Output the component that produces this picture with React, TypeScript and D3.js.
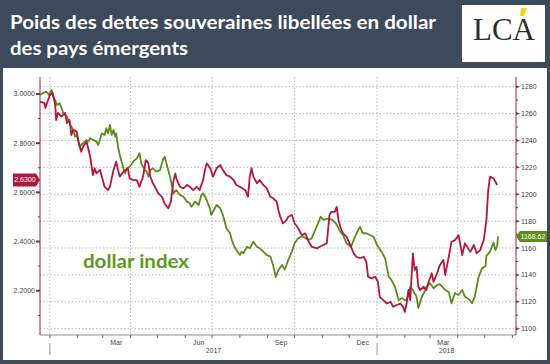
import React from "react";
import * as d3 from "d3";

const W = 550;
const H = 364;

const titleLines = ["Poids des dettes souveraines libellées en dollar", "des pays émergents"];
const seriesLabel = "dollar index";
const logoText = "LCA";

// Red series (left axis) : date, value
const redSeries: [string, number][] = [
  ["2016-12-21", 2.969], ["2016-12-26", 2.963], ["2016-12-27", 2.943], ["2017-01-01", 2.996],
  ["2017-01-04", 3.005], ["2017-01-07", 2.955], ["2017-01-08", 2.894], ["2017-01-10", 2.923],
  ["2017-01-14", 2.908], ["2017-01-18", 2.923], ["2017-01-20", 2.881], ["2017-01-23", 2.894],
  ["2017-01-25", 2.833], ["2017-01-27", 2.854], ["2017-01-31", 2.847], ["2017-02-02", 2.806],
  ["2017-02-05", 2.765], ["2017-02-07", 2.786], ["2017-02-11", 2.806], ["2017-02-15", 2.745],
  ["2017-02-18", 2.670], ["2017-02-20", 2.698], ["2017-02-22", 2.677], ["2017-02-26", 2.691],
  ["2017-02-28", 2.664], ["2017-03-03", 2.623], ["2017-03-07", 2.609], ["2017-03-09", 2.623],
  ["2017-03-11", 2.657], ["2017-03-13", 2.691], ["2017-03-16", 2.725], ["2017-03-18", 2.691],
  ["2017-03-20", 2.664], ["2017-03-24", 2.684], ["2017-03-29", 2.698], ["2017-03-31", 2.657],
  ["2017-04-04", 2.650], ["2017-04-08", 2.650], ["2017-04-11", 2.623], ["2017-04-15", 2.664],
  ["2017-04-18", 2.731], ["2017-04-21", 2.718], ["2017-04-23", 2.664], ["2017-04-26", 2.637],
  ["2017-05-02", 2.596], ["2017-05-06", 2.582], ["2017-05-09", 2.555], ["2017-05-13", 2.535],
  ["2017-05-16", 2.562], ["2017-05-19", 2.650], ["2017-05-21", 2.677], ["2017-05-22", 2.657],
  ["2017-05-26", 2.623], ["2017-05-30", 2.616], ["2017-06-03", 2.630], ["2017-06-06", 2.623],
  ["2017-06-10", 2.609], ["2017-06-14", 2.623], ["2017-06-17", 2.609], ["2017-06-21", 2.650],
  ["2017-06-23", 2.691], ["2017-06-25", 2.718], ["2017-06-29", 2.698], ["2017-07-02", 2.664],
  ["2017-07-06", 2.698], ["2017-07-10", 2.711], ["2017-07-13", 2.691], ["2017-07-17", 2.670],
  ["2017-07-21", 2.664], ["2017-07-25", 2.650], ["2017-07-28", 2.630], ["2017-08-01", 2.623],
  ["2017-08-07", 2.609], ["2017-08-10", 2.582], ["2017-08-12", 2.664], ["2017-08-14", 2.698],
  ["2017-08-16", 2.664], ["2017-08-20", 2.637], ["2017-08-23", 2.650], ["2017-08-27", 2.630],
  ["2017-08-31", 2.616], ["2017-09-04", 2.582], ["2017-09-07", 2.576], ["2017-09-11", 2.562],
  ["2017-09-13", 2.528], ["2017-09-15", 2.501], ["2017-09-18", 2.474], ["2017-09-22", 2.487],
  ["2017-09-24", 2.501], ["2017-09-28", 2.508], ["2017-10-01", 2.474], ["2017-10-05", 2.454],
  ["2017-10-09", 2.426], ["2017-10-13", 2.433], ["2017-10-16", 2.406], ["2017-10-20", 2.379],
  ["2017-10-26", 2.372], ["2017-10-29", 2.379], ["2017-11-02", 2.386], ["2017-11-06", 2.393],
  ["2017-11-08", 2.474], ["2017-11-09", 2.508], ["2017-11-11", 2.521], ["2017-11-15", 2.521],
  ["2017-11-17", 2.541], ["2017-11-19", 2.487], ["2017-11-21", 2.460], ["2017-11-24", 2.433],
  ["2017-11-28", 2.419], ["2017-12-02", 2.386], ["2017-12-06", 2.352], ["2017-12-09", 2.338],
  ["2017-12-13", 2.332], ["2017-12-17", 2.338], ["2017-12-20", 2.318], ["2017-12-22", 2.257],
  ["2017-12-26", 2.250], ["2017-12-30", 2.257], ["2018-01-02", 2.236], ["2018-01-04", 2.175],
  ["2018-01-08", 2.162], ["2018-01-12", 2.148], ["2018-01-16", 2.155], ["2018-01-19", 2.135],
  ["2018-01-23", 2.142], ["2018-01-27", 2.148], ["2018-01-30", 2.135], ["2018-02-01", 2.114],
  ["2018-02-03", 2.148], ["2018-02-05", 2.203], ["2018-02-07", 2.162], ["2018-02-10", 2.352],
  ["2018-02-12", 2.284], ["2018-02-14", 2.297], ["2018-02-16", 2.216], ["2018-02-18", 2.203],
  ["2018-02-22", 2.216], ["2018-02-25", 2.203], ["2018-02-27", 2.230], ["2018-03-03", 2.271],
  ["2018-03-05", 2.236], ["2018-03-09", 2.271], ["2018-03-12", 2.304], ["2018-03-16", 2.325],
  ["2018-03-18", 2.264], ["2018-03-22", 2.338], ["2018-03-25", 2.399], ["2018-03-29", 2.406],
  ["2018-04-02", 2.426], ["2018-04-06", 2.345], ["2018-04-09", 2.393], ["2018-04-15", 2.358],
  ["2018-04-19", 2.386], ["2018-04-22", 2.352], ["2018-04-26", 2.365], ["2018-04-30", 2.406],
  ["2018-05-03", 2.487], ["2018-05-05", 2.609], ["2018-05-07", 2.664], ["2018-05-11", 2.657],
  ["2018-05-15", 2.630],
];

// Green series (right axis, dollar index) : date, value
const greenSeries: [string, number][] = [
  ["2016-12-21", 1273.8], ["2016-12-24", 1275.1], ["2016-12-28", 1276.3], ["2016-12-31", 1273.8],
  ["2017-01-03", 1277.6], ["2017-01-05", 1272.6], ["2017-01-09", 1266.4], ["2017-01-12", 1267.7],
  ["2017-01-16", 1260.2], ["2017-01-20", 1257.7], ["2017-01-23", 1252.8], ["2017-01-27", 1247.8],
  ["2017-01-29", 1242.8], ["2017-01-31", 1244.1], ["2017-02-03", 1235.4], ["2017-02-07", 1237.9],
  ["2017-02-11", 1240.4], ["2017-02-13", 1239.1], ["2017-02-15", 1241.6], ["2017-02-18", 1240.4],
  ["2017-02-22", 1239.1], ["2017-02-24", 1236.6], ["2017-02-28", 1245.3], ["2017-03-03", 1244.1],
  ["2017-03-05", 1249.1], ["2017-03-07", 1245.3], ["2017-03-09", 1251.5], ["2017-03-11", 1244.1],
  ["2017-03-13", 1247.8], ["2017-03-15", 1242.8], ["2017-03-16", 1245.3], ["2017-03-18", 1235.4],
  ["2017-03-20", 1229.2], ["2017-03-24", 1219.3], ["2017-03-26", 1215.6], ["2017-03-28", 1219.3],
  ["2017-03-31", 1220.5], ["2017-04-04", 1224.2], ["2017-04-08", 1226.7], ["2017-04-11", 1230.5],
  ["2017-04-13", 1223.0], ["2017-04-17", 1218.0], ["2017-04-19", 1216.8], ["2017-04-21", 1213.1],
  ["2017-04-23", 1218.0], ["2017-04-26", 1219.3], ["2017-04-30", 1216.8], ["2017-05-04", 1218.0],
  ["2017-05-07", 1225.5], ["2017-05-09", 1227.9], ["2017-05-11", 1223.0], ["2017-05-15", 1213.1],
  ["2017-05-19", 1200.7], ["2017-05-22", 1203.2], ["2017-05-26", 1199.4], ["2017-05-30", 1198.2],
  ["2017-06-03", 1194.5], ["2017-06-06", 1193.3], ["2017-06-08", 1190.7], ["2017-06-12", 1194.5],
  ["2017-06-16", 1192.0], ["2017-06-19", 1199.4], ["2017-06-21", 1200.7], ["2017-06-25", 1195.7],
  ["2017-06-29", 1188.3], ["2017-06-30", 1184.6], ["2017-07-02", 1187.0], ["2017-07-06", 1192.0],
  ["2017-07-10", 1189.6], ["2017-07-13", 1184.6], ["2017-07-17", 1174.7], ["2017-07-21", 1171.0],
  ["2017-07-23", 1166.0], ["2017-07-25", 1162.3], ["2017-07-28", 1158.5], ["2017-08-01", 1154.8],
  ["2017-08-03", 1157.3], ["2017-08-05", 1156.1], ["2017-08-09", 1161.0], ["2017-08-12", 1159.8],
  ["2017-08-16", 1164.7], ["2017-08-20", 1161.0], ["2017-08-23", 1159.8], ["2017-08-27", 1157.3],
  ["2017-08-31", 1154.8], ["2017-09-04", 1153.6], ["2017-09-07", 1147.4], ["2017-09-10", 1138.4],
  ["2017-09-13", 1143.7], ["2017-09-17", 1147.4], ["2017-09-20", 1144.0], ["2017-09-24", 1151.1],
  ["2017-09-28", 1157.3], ["2017-10-01", 1163.5], ["2017-10-05", 1167.2], ["2017-10-08", 1168.4],
  ["2017-10-11", 1168.4], ["2017-10-16", 1166.0], ["2017-10-20", 1167.2], ["2017-10-24", 1173.4],
  ["2017-10-28", 1179.6], ["2017-10-30", 1183.3], ["2017-11-02", 1180.9], ["2017-11-08", 1182.1],
  ["2017-11-12", 1180.9], ["2017-11-16", 1178.4], ["2017-11-21", 1172.2], ["2017-11-24", 1169.7],
  ["2017-11-28", 1163.5], ["2017-12-03", 1161.0], ["2017-12-06", 1166.0], ["2017-12-10", 1172.2],
  ["2017-12-13", 1175.9], ["2017-12-16", 1171.0], ["2017-12-20", 1171.0], ["2017-12-24", 1169.7],
  ["2017-12-28", 1168.4], ["2018-01-01", 1162.3], ["2018-01-06", 1157.3], ["2018-01-10", 1152.3],
  ["2018-01-14", 1138.7], ["2018-01-17", 1136.2], ["2018-01-21", 1131.2], ["2018-01-25", 1121.3],
  ["2018-01-29", 1122.6], ["2018-02-01", 1121.3], ["2018-02-03", 1121.3], ["2018-02-07", 1131.2],
  ["2018-02-10", 1128.8], ["2018-02-14", 1123.8], ["2018-02-16", 1115.4], ["2018-02-20", 1123.8],
  ["2018-02-23", 1127.3], ["2018-02-25", 1131.2], ["2018-03-01", 1133.8], ["2018-03-05", 1130.1],
  ["2018-03-09", 1132.5], ["2018-03-12", 1133.2], ["2018-03-16", 1130.3], ["2018-03-18", 1128.8],
  ["2018-03-22", 1127.3], ["2018-03-25", 1118.9], ["2018-03-29", 1126.6], ["2018-04-02", 1125.1],
  ["2018-04-06", 1128.8], ["2018-04-09", 1123.8], ["2018-04-13", 1122.1], ["2018-04-17", 1118.9],
  ["2018-04-20", 1123.8], ["2018-04-24", 1137.7], ["2018-04-28", 1144.9], ["2018-05-02", 1146.6],
  ["2018-05-03", 1154.1], ["2018-05-07", 1157.3], ["2018-05-11", 1164.1], ["2018-05-13", 1158.5],
  ["2018-05-15", 1161.5], ["2018-05-16", 1168.62],
];

const leftTicks = [2.2, 2.4, 2.6, 2.8, 3.0];
const leftMinorTicks = [2.1, 2.3, 2.5, 2.7, 2.9];
const rightTicks = [1100, 1120, 1140, 1160, 1180, 1200, 1220, 1240, 1260, 1280];
const rightMinorTicks = [1110, 1130, 1150, 1170, 1190, 1210, 1230, 1250, 1270];
const redLastLabel = "2.6300";
const greenLastLabel = "1168.62";
const yearLabels = ["2017", "2018"];

const parse = d3.timeParse("%Y-%m-%d");

type P = { date: Date; v: number };

export default function App() {
  const red: P[] = redSeries.map(([d, v]) => ({ date: parse(d)!, v }));
  const green: P[] = greenSeries.map(([d, v]) => ({ date: parse(d)!, v }));

  const start = new Date(2016, 11, 21);
  const end = new Date(2018, 5, 5);
  const x = d3.scaleTime().domain([start, end]).range([40, 516]);
  const yL = d3.scaleLinear().domain([2.02, 3.069]).range([335, 77]);
  const yR = d3.scaleLinear().domain([1095.3, 1287.2]).range([335, 77]);

  const lineL = d3.line<P>().x((p) => x(p.date)).y((p) => yL(p.v));
  const lineR = d3.line<P>().x((p) => x(p.date)).y((p) => yR(p.v));

  const months = d3.timeMonth.range(d3.timeMonth.ceil(start), end);
  const quarters = months.filter((m) => m.getMonth() % 3 === 0);
  const labelMonths = months.filter((m) => m.getMonth() % 3 === 2 && d3.timeDay.offset(m, 15) < end);
  const years = d3.timeYear.range(d3.timeYear.ceil(start), end);
  const fmtMonth = d3.timeFormat("%b");
  const fmtL = d3.format(".4f");

  const plotTop = 77, plotBottom = 335, plotLeft = 40, plotRight = 516;
  const axisColor = "#8a2a44";
  const gridColor = "#b8b8b8";
  const redColor = "#b3173f";
  const greenColor = "#5b8c1c";
  const tickFont = "'Liberation Sans', Arial, sans-serif";

  const lastRed = red[red.length - 1];
  const lastGreen = green[green.length - 1];
  const ry = yL(lastRed.v) - 5;
  const gy = yR(lastGreen.v);

  const yearCenters = years.map((yr, i) => {
    const b = d3.timeYear.offset(yr, 1);
    const bb = b > end ? end : b;
    return { label: yearLabels[i], x: (x(yr) + x(bb)) / 2 };
  });

  return (
    <svg width={W} height={H} style={{ position: "fixed", left: 0, top: 0 }}>
      <rect width={W} height={H} fill="#3c4a5c" />
      <rect x={3} y={68} width={544} height={292} fill="#ffffff" />

      {/* title */}
      <text x={10} y={29} fill="#ffffff" fontFamily="Lato, 'Open Sans', sans-serif" fontWeight={700} fontSize={19}
        textLength={426} lengthAdjust="spacingAndGlyphs">{titleLines[0]}</text>
      <text x={10} y={55} fill="#ffffff" fontFamily="Lato, 'Open Sans', sans-serif" fontWeight={700} fontSize={19}
        textLength={178} lengthAdjust="spacingAndGlyphs">{titleLines[1]}</text>

      {/* logo */}
      <rect x={462} y={5} width={83} height={57} fill="#ffffff" />
      <text x={504} y={40} textAnchor="middle" fill="#2e2e2e" fontFamily="'Liberation Serif', 'DejaVu Serif', serif"
        fontSize={31}>{logoText}</text>
      <polygon points="521,8 527,8 524,16 520,16" fill="#f2d21b" />

      {/* gridlines */}
      {rightTicks.map((t) => (
        <line key={"hg" + t} x1={plotLeft} x2={plotRight} y1={yR(t)} y2={yR(t)} stroke={gridColor}
          strokeWidth={1} strokeDasharray="1.5,2" />
      ))}
      {quarters.map((q) => (
        <line key={"vg" + +q} x1={x(q)} x2={x(q)} y1={plotTop} y2={plotBottom} stroke={gridColor}
          strokeWidth={1} strokeDasharray="1.5,2" />
      ))}

      {/* bottom axis */}
      <line x1={plotLeft} x2={plotRight} y1={plotBottom} y2={plotBottom} stroke="#8a8a8a" strokeWidth={1} />
      {months.map((m) => (
        <line key={"mt" + +m} x1={x(m)} x2={x(m)} y1={plotBottom} y2={plotBottom + 3} stroke="#666" strokeWidth={1} />
      ))}
      {labelMonths.map((m) => (
        <text key={"ml" + +m} x={x(d3.timeDay.offset(m, 15))} y={plotBottom + 10} textAnchor="middle"
          fontFamily={tickFont} fontSize={7} fill="#444">{fmtMonth(m)}</text>
      ))}
      {years.map((yr) => (
        <line key={"ys" + +yr} x1={x(yr)} x2={x(yr)} y1={plotBottom + 8} y2={plotBottom + 20} stroke="#999" strokeWidth={1} />
      ))}
      {yearCenters.map((c) => (
        <text key={"yl" + c.label} x={c.x} y={plotBottom + 18} textAnchor="middle" fontFamily={tickFont}
          fontSize={7} fill="#444">{c.label}</text>
      ))}

      {/* left axis */}
      <line x1={plotLeft} x2={plotLeft} y1={plotTop} y2={plotBottom} stroke={axisColor} strokeWidth={1} />
      {leftTicks.map((t) => (
        <g key={"lt" + t}>
          <rect x={plotLeft - 4} y={yL(t) - 1} width={4} height={2} fill={axisColor} />
          <text x={plotLeft - 5} y={yL(t) + 2.5} textAnchor="end" fontFamily={tickFont} fontSize={7} fill="#444">{fmtL(t)}</text>
        </g>
      ))}
      {leftMinorTicks.map((t) => (
        <line key={"lm" + t} x1={plotLeft - 2} x2={plotLeft} y1={yL(t)} y2={yL(t)} stroke={axisColor} strokeWidth={1} />
      ))}

      {/* right axis */}
      <line x1={plotRight} x2={plotRight} y1={plotTop} y2={plotBottom} stroke={axisColor} strokeWidth={1} />
      {rightTicks.map((t) => (
        <g key={"rt" + t}>
          <polygon points={`${plotRight},${yR(t) - 1.5} ${plotRight + 4},${yR(t)} ${plotRight},${yR(t) + 1.5}`} fill={axisColor} />
          <text x={plotRight + 5} y={yR(t) + 2.5} fontFamily={tickFont} fontSize={7} fill="#444">{t}</text>
        </g>
      ))}
      {rightMinorTicks.map((t) => (
        <line key={"rm" + t} x1={plotRight} x2={plotRight + 2} y1={yR(t)} y2={yR(t)} stroke={axisColor} strokeWidth={1} />
      ))}

      {/* series */}
      <path d={lineR(green)!} fill="none" stroke={greenColor} strokeWidth={1.8} strokeLinejoin="round" />
      <path d={lineL(red)!} fill="none" stroke={redColor} strokeWidth={1.8} strokeLinejoin="round" />

      {/* series label */}
      <text x={83} y={268} fill="#5a9a1e" fontFamily="Lato, 'Open Sans', sans-serif" fontWeight={700} fontSize={19}
        textLength={106} lengthAdjust="spacingAndGlyphs">{seriesLabel}</text>

      {/* last value labels */}
      <polygon points={`13,${ry - 6.5} 36,${ry - 6.5} 40,${ry} 36,${ry + 6.5} 13,${ry + 6.5}`} fill={redColor} />
      <text x={25} y={ry + 2.5} textAnchor="middle" fontFamily={tickFont} fontSize={7} fill="#fff">{redLastLabel}</text>
      <polygon points={`516,${gy} 520,${gy - 5.5} 547,${gy - 5.5} 547,${gy + 5.5} 520,${gy + 5.5}`} fill={greenColor} />
      <text x={533} y={gy + 2.5} textAnchor="middle" fontFamily={tickFont} fontSize={7} fill="#fff">{greenLastLabel}</text>
    </svg>
  );
}
